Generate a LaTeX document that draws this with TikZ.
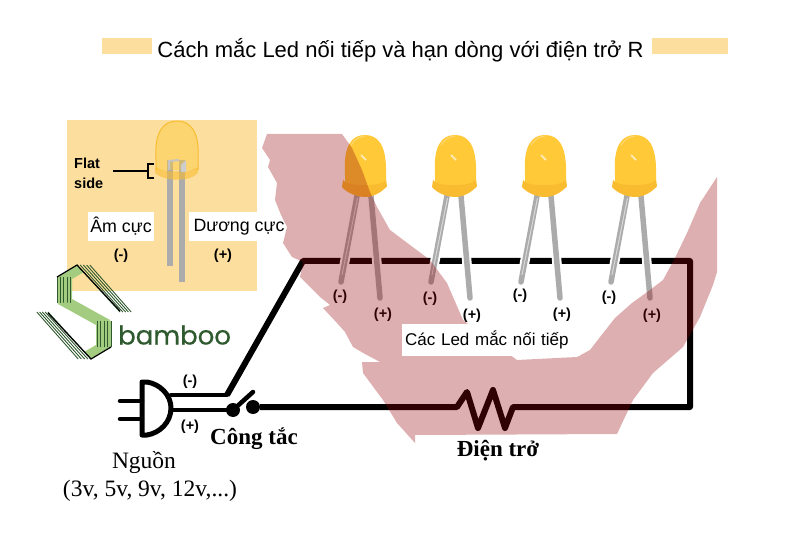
\documentclass[tikz,border=0pt]{standalone}
\usepackage{fontspec}
\setmainfont{Liberation Serif}
\setsansfont{Liberation Sans}
\newfontfamily\logofont[FakeBold=0.5]{Poppins}
\usepackage{xcolor}
\usepackage{tikz}
\usetikzlibrary{positioning}
\definecolor{panelcol}{HTML}{FCDF9E}
\definecolor{pinkcol}{RGB}{150,6,8}
\definecolor{domecol}{HTML}{FFC938}
\definecolor{flangecol}{HTML}{F9BC30}
\definecolor{leadcol}{HTML}{ABABAB}
\definecolor{logocol}{HTML}{2F5A2F}
\definecolor{logolight}{HTML}{A3CC80}
\tikzstyle{wire} = [line width=6pt,line join=round,black]
\tikzstyle{thinwire} = [line width=4.5pt,line join=round,line cap=round,black]
\tikzstyle{contact} = [circle,fill=black,inner sep=0pt,minimum size=14pt]
\tikzstyle{title} = [font=\sffamily\fontsize{22}{26}\selectfont,inner sep=0pt]
\tikzstyle{bar} = [fill=panelcol,draw=none]
\tikzstyle{label} = [font=\sffamily\fontsize{17}{20}\selectfont,inner sep=0pt]
\tikzstyle{whitelabel} = [label,font=\sffamily\fontsize{17.8}{20}\selectfont,fill=white,text=black,minimum height=29pt]
\tikzstyle{pole} = [font=\sffamily\bfseries\fontsize{14.5}{16}\selectfont,inner sep=0pt]
\tikzstyle{serif} = [font=\rmfamily\fontsize{23.5}{26}\selectfont,inner sep=0pt]
\tikzstyle{serifbold} = [font=\rmfamily\bfseries\fontsize{23}{26}\selectfont,inner sep=0pt]
\tikzstyle{lead} = [line width=5.5pt,line cap=round,leadcol]
\tikzstyle{halo} = [line width=9.5pt,white]
\newcommand{\ledbulb}[1]{
   \begin{scope}[shift={(#1)}]
      \draw [halo] (-8,61) -- (-24,147);
      \draw [halo] (6,61) -- (15,163);
      \draw [lead] (-8,61) -- (-24,147);
      \draw [lead] (6,61) -- (15,163);
      \draw [line width=1pt,white!85!black] (-7.5,63) -- (-23,140);
      \fill [domecol] (-20,53) -- (-20,40) .. controls (-22,10) and (-13,0) .. (0,0) .. controls (13,0) and (22,10) .. (21,40) -- (21,53) -- cycle;
      \draw [line width=1pt,domecol!70!white] (-14,10) .. controls (-10,4) and (-6,2) .. (0,1);
      \draw [line width=2pt,white!60!domecol] (-4,20) -- (1,25);
      \fill [flangecol] (-22,45) .. controls (-19,52) and (16,52) .. (21,45) -- (22,51) .. controls (16,58) and (8,62) .. (0,62) .. controls (-8,62) and (-18,58) .. (-23,52) -- cycle;
   \end{scope}
}
\begin{document}
\begin{tikzpicture}[x=1pt,y=-1pt]
   \useasboundingbox (0,0) rectangle (800,545);
   % title
   \node (title) [title] at (400.5,50) {Cách mắc Led nối tiếp và hạn dòng với điện trở R};
   \fill [bar] (102,38) rectangle (152,54);
   \fill [bar] (652,38) rectangle (728,54);
   % sample led
   \fill [panelcol] (67,120) rectangle (257,291);
   \draw [lead,line cap=butt,line width=6pt] (170,160) -- (170,266);
   \draw [lead,line cap=butt,line width=6pt] (182,160) -- (182,282);
   \fill [domecol,opacity=.45] (156,170) -- (156,160) .. controls (154,131) and (164,121) .. (177,121) .. controls (190,121) and (200,131) .. (198,160) -- (198,170) -- cycle;
   \draw [flangecol,line width=1pt] (156,170) -- (156,160) .. controls (154,131) and (164,121) .. (177,121) .. controls (190,121) and (200,131) .. (198,160) -- (198,170);
   \fill [flangecol,opacity=.6] (155,167) .. controls (165,173) and (190,173) .. (198,167) -- (198,173) .. controls (190,182) and (165,182) .. (155,173) -- cycle;
   \draw [leadcol!70!white,line width=2pt] (169,170) -- (169,161) -- (179,160);
   \fill [white!40!leadcol] (181,172) -- (181,165) -- (186,160) -- (186,172) -- cycle;
   \node (flat) [font=\sffamily\bfseries\fontsize{14.5}{20}\selectfont,align=left,inner sep=0pt,anchor=west] at (74,173) {Flat\\side};
   \coordinate (flatend) at (148,171);
   \draw [line width=2pt] (113,171) -- (flatend);
   \draw [line width=2pt] (154,164) -- (148,164) -- (148,178) -- (154,178);
   \node (am) [whitelabel,minimum width=66pt] at (121,226.5) {Âm cực};
   \node (duong) [whitelabel,minimum width=100pt] at (239,227) {Dương cực};
   \node (amsign) [pole] at (121,256) {(-)};
   \node (duongsign) [pole] at (223,256) {(+)};
   % logo
   \foreach \r in {0,180} {
      \begin{scope}[shift={(84,312)},rotate=\r]
         \fill [logolight] (-27,-9) -- (-27,-35) -- (-7,-47) -- (0,-40) -- (-12,-33) -- (-12,-13) -- (26,8) -- (18,10) -- cycle;
         \foreach \i in {0,1,2,3,4} {
            \draw [logocol,line width=.9pt] ({-7+3.2*\i},-47) -- ({36+2.8*\i},0);
            \draw [logocol,line width=.9pt] ({-27+3.4*\i},-35) -- ({-27+3.4*\i},-9);
         }
         \draw [black,line width=1.2pt] (-27,-35) -- (-7,-47) -- (36,-1);
      \end{scope}
   }
   \node (logo) [font=\logofont\fontsize{26}{28}\selectfont,text=logocol,inner sep=0pt,anchor=west] at (118,335) {bamboo};
   % circuit
   \coordinate (corner1) at (303,261);
   \coordinate (corner2) at (690,261);
   \coordinate (corner3) at (690,407);
   \coordinate (resright) at (513,407);
   \coordinate (resleft) at (457,407);
   \coordinate (bend) at (227,395);
   \coordinate (plugminus) at (171,395);
   \coordinate (plugplus) at (171,410);
   \coordinate (blade) at (253,392);
   \node (swleft) [contact] at (233,410) {};
   \node (swright) [contact] at (253,407) {};
   \draw [wire] (bend) -- (corner1) -- (corner2) -- (corner3) -- (resright) -- (505,428) -- (493,390) -- (478,428) -- (467,392) -- (resleft) -- (swright);
   \draw [thinwire] (plugminus) -- (bend);
   \draw [thinwire] (plugplus) -- (swleft);
   \draw [thinwire] (swleft) -- (blade);
   % plug
   \draw [line width=5pt,line join=round] (142,382) -- (147,382) .. controls (160,384) and (171,395) .. (171,408) .. controls (171,422) and (160,433) .. (147,435) -- (142,435) -- cycle;
   \coordinate (prong1) at (142,401);
   \coordinate (prong2) at (142,419);
   \draw [thinwire] (120,401) -- (prong1);
   \draw [thinwire] (120,419) -- (prong2);
   \node (plugneg) [pole] at (190,382) {(-)};
   \node (plugpos) [pole] at (190,427) {(+)};
   % leds
   \foreach \x in {365,455,545,635} {
      \ledbulb{\x,135}
   }
   \node (n1) [pole] at (340,297) {(-)};
   \node (p1) [pole] at (383,315) {(+)};
   \node (n2) [pole] at (430,299) {(-)};
   \node (p2) [pole] at (472,316) {(+)};
   \node (n3) [pole] at (520,296) {(-)};
   \node (p3) [pole] at (562,315) {(+)};
   \node (n4) [pole] at (609,298) {(-)};
   \node (p4) [pole] at (652,316) {(+)};
   % pink band
   \fill [pinkcol,fill opacity=.32] (267,134) -- (342,134) -- (352,148) -- (362,170) -- (370,192) -- (377,207) -- (390,230) -- (410,245) -- (430,260) -- (447,283) -- (463,320) -- (472,327) -- (517,360) -- (577,357) -- (590,350) -- (600,337) -- (615,318) -- (632,303) -- (650,290) -- (663,280) -- (675,258) -- (687,233) -- (700,203) -- (717,177) -- (717,272) -- (713,285) -- (700,317) -- (683,347) -- (668,360) -- (653,373) -- (633,400) -- (617,434) -- (415,435) -- (415,443) -- (397,423) -- (383,400) -- (363,373) -- (362,362) -- (380,362) -- (365,354) -- (353,347) -- (345,332) -- (337,323) -- (323,308) -- (330,305) -- (320,297) -- (300,277) -- (303,262) -- (292,257) -- (283,243) -- (287,227) -- (281,215) -- (275,200) -- (277,183) -- (268,167) -- (270,160) -- (262,148) -- cycle;
   \node (series) [label,fill=white,anchor=west,minimum height=32pt,minimum width=178pt,text width=172pt] at (402,340) {Các Led mắc nối tiếp};
   % labels
   \node (switch) [serifbold] at (254,439) {Công tắc};
   \node (res) [serifbold] at (498,451) {Điện trở};
   \node (source) [serif] at (144,463) {Nguồn};
   \node (volts) [serif] at (150,491) {(3v, 5v, 9v, 12v,...)};
\end{tikzpicture}
\end{document}
